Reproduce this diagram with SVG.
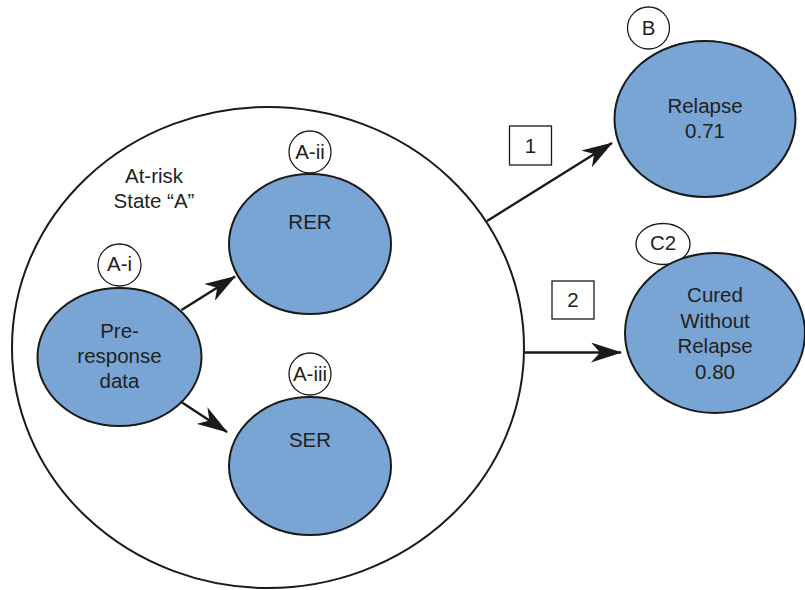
<svg xmlns="http://www.w3.org/2000/svg" width="805" height="590" viewBox="0 0 805 590">
<defs>
<style>
.n{fill:#78a5d4;stroke:#1a1a1a;stroke-width:2}
.tag{fill:#fff;stroke:#1a1a1a;stroke-width:1.3}
.box{fill:#fff;stroke:#1a1a1a;stroke-width:1.3}
.big{fill:#fff;stroke:#1a1a1a;stroke-width:2}
text{font-family:"Liberation Sans",Arial,sans-serif;font-size:20.5px;fill:#231f20;text-anchor:middle}
.e{stroke:#1a1a1a;stroke-width:2.5;fill:none}
</style>
<marker id="ah" viewBox="0 0 31 20" refX="30" refY="10" markerWidth="31" markerHeight="20" markerUnits="userSpaceOnUse" orient="auto">
<path d="M0,0 L31,10 L0,20 L9,10 Z" fill="#1a1a1a"/>
</marker>
</defs>
<g id="stateA">
<ellipse class="big" cx="268" cy="347.5" rx="256" ry="240.5"/>
<text x="154" y="183">At-risk</text>
<text x="154" y="208">State “A”</text>
</g>
<g id="A-i">
<ellipse class="tag" cx="119.5" cy="265" rx="21.5" ry="21"/>
<text x="119.5" y="270.5">A-i</text>
<ellipse class="n" cx="119.5" cy="357" rx="82" ry="69"/>
<text x="119.5" y="338">Pre-</text>
<text x="119.5" y="363">response</text>
<text x="119.5" y="388">data</text>
</g>
<g id="A-ii">
<ellipse class="tag" cx="310" cy="152" rx="21" ry="21"/>
<text x="310" y="159">A-ii</text>
<ellipse class="n" cx="310" cy="244" rx="81" ry="70"/>
<text x="310" y="229">RER</text>
</g>
<g id="A-iii">
<ellipse class="tag" cx="310" cy="374" rx="21" ry="21"/>
<text x="310" y="381">A-iii</text>
<ellipse class="n" cx="310" cy="466" rx="81" ry="69"/>
<text x="310" y="447">SER</text>
</g>
<g id="B">
<ellipse class="tag" cx="648.5" cy="28" rx="21" ry="21"/>
<text x="648.5" y="35">B</text>
<ellipse class="n" cx="705" cy="119" rx="90.5" ry="78"/>
<text x="705" y="113">Relapse</text>
<text x="705" y="138">0.71</text>
</g>
<g id="C2">
<ellipse class="tag" cx="663" cy="244" rx="27" ry="20.5"/>
<text x="663" y="250">C2</text>
<ellipse class="n" cx="715" cy="333" rx="90" ry="80"/>
<text x="715" y="302">Cured</text>
<text x="715" y="328">Without</text>
<text x="715" y="353">Relapse</text>
<text x="715" y="379">0.80</text>
</g>
<g id="labels">
<rect class="box" x="509.5" y="126" width="42" height="39"/>
<text x="530.5" y="152.5">1</text>
<rect class="box" x="552" y="281" width="42" height="38"/>
<text x="573" y="306.5">2</text>
</g>
<g id="connectors">
<line class="e" x1="181.5" y1="310" x2="235" y2="276.5" marker-end="url(#ah)"/>
<line class="e" x1="180.5" y1="401.5" x2="227" y2="432" marker-end="url(#ah)"/>
<line class="e" x1="487" y1="221" x2="612" y2="143" marker-end="url(#ah)"/>
<line class="e" x1="525" y1="352.5" x2="621" y2="352.5" marker-end="url(#ah)"/>
</g>
</svg>
